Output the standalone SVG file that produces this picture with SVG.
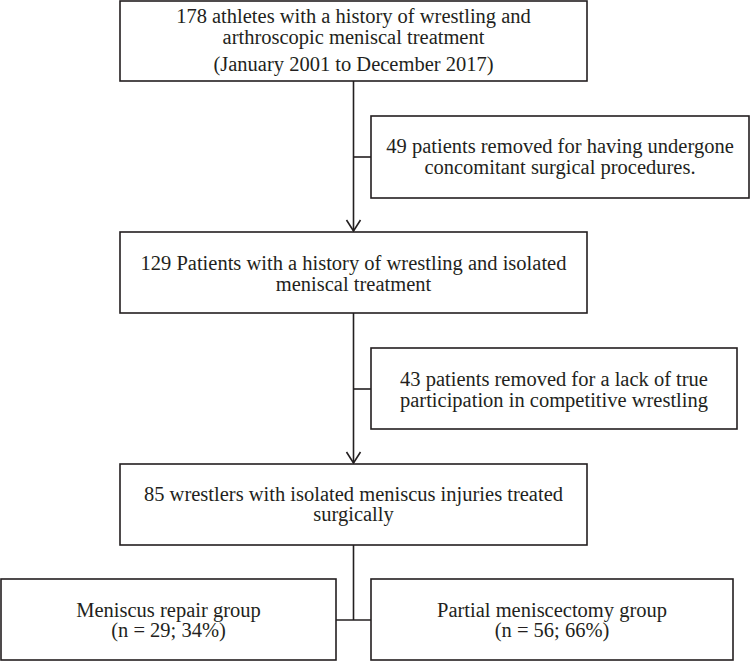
<svg xmlns="http://www.w3.org/2000/svg" width="751" height="662" viewBox="0 0 751 662">
<style>
.box{fill:#fff;stroke:#231f20;stroke-width:1.6}
.t{font-family:"Liberation Serif","Times New Roman",serif;font-size:20.5px;fill:#231f20;text-anchor:middle}
.c{fill:none;stroke:#231f20;stroke-width:1.6}
</style>
<rect width="751" height="662" fill="#fff"/>
<g id="connectors">
<line class="c" x1="353.5" y1="81" x2="353.5" y2="231"/>
<line class="c" x1="353.5" y1="157" x2="371" y2="157"/>
<polyline class="c" points="346.5,220 353.5,231 360.5,220"/>
<line class="c" x1="353.5" y1="313" x2="353.5" y2="463"/>
<line class="c" x1="353.5" y1="389" x2="371" y2="389"/>
<polyline class="c" points="346.5,452 353.5,463 360.5,452"/>
<line class="c" x1="353.5" y1="545" x2="353.5" y2="620"/>
<line class="c" x1="336" y1="620" x2="371" y2="620"/>
</g>
<g id="n1">
<rect class="box" x="120" y="1" width="467" height="80"/>
<text class="t" x="353.5" y="23">178 athletes with a history of wrestling and</text>
<text class="t" x="353.5" y="44">arthroscopic meniscal treatment</text>
<text class="t" x="353.5" y="71">(January 2001 to December 2017)</text>
</g>
<g id="n2">
<rect class="box" x="371" y="116" width="378" height="82"/>
<text class="t" x="560" y="153">49 patients removed for having undergone</text>
<text class="t" x="560" y="174">concomitant surgical procedures.</text>
</g>
<g id="n3">
<rect class="box" x="120" y="232" width="467" height="81"/>
<text class="t" x="353.5" y="270">129 Patients with a history of wrestling and isolated</text>
<text class="t" x="353.5" y="291">meniscal treatment</text>
</g>
<g id="n4">
<rect class="box" x="371" y="348" width="366" height="81"/>
<text class="t" x="554" y="386">43 patients removed for a lack of true</text>
<text class="t" x="554" y="407">participation in competitive wrestling</text>
</g>
<g id="n5">
<rect class="box" x="120" y="464" width="467" height="81"/>
<text class="t" x="353.5" y="501">85 wrestlers with isolated meniscus injuries treated</text>
<text class="t" x="353.5" y="521">surgically</text>
</g>
<g id="n6">
<rect class="box" x="1" y="579" width="335" height="81"/>
<text class="t" x="168.5" y="617">Meniscus repair group</text>
<text class="t" x="168.5" y="637">(n = 29; 34%)</text>
</g>
<g id="n7">
<rect class="box" x="371" y="579" width="362" height="81"/>
<text class="t" x="552" y="617">Partial meniscectomy group</text>
<text class="t" x="552" y="637">(n = 56; 66%)</text>
</g>
</svg>
